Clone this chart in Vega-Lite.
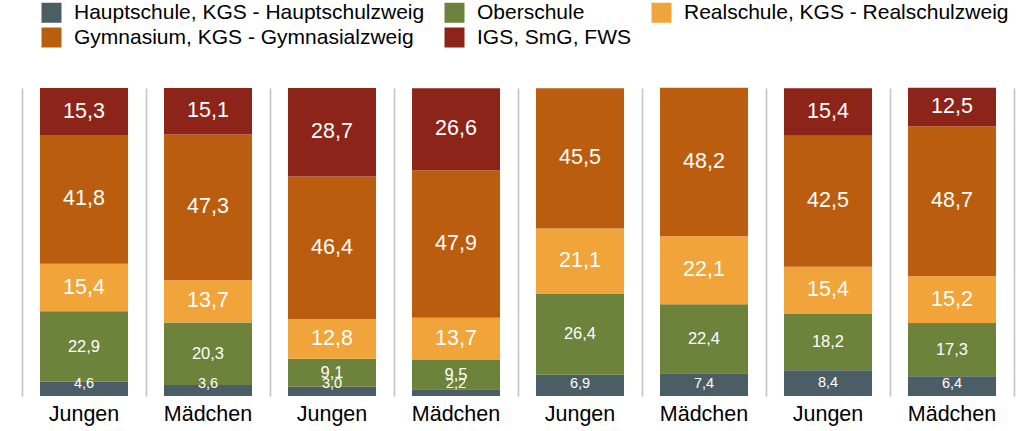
{
  "$schema": "https://vega.github.io/schema/vega-lite/v6.json",
  "width": 992,
  "height": 308,
  "autosize": {"type": "none"},
  "padding": {"left": 22, "top": 88, "right": 10, "bottom": 35},
  "background": "white",
  "config": {
    "view": {"stroke": null},
    "font": "Liberation Sans",
    "text": {"font": "Liberation Sans"}
  },
  "data": {
    "values": [
      {"key": "1-Jungen", "schulform": "Hauptschule, KGS - Hauptschulzweig", "wert": 4.6},
      {"key": "1-Jungen", "schulform": "Oberschule", "wert": 22.9},
      {"key": "1-Jungen", "schulform": "Realschule, KGS - Realschulzweig", "wert": 15.4},
      {"key": "1-Jungen", "schulform": "Gymnasium, KGS - Gymnasialzweig", "wert": 41.8},
      {"key": "1-Jungen", "schulform": "IGS, SmG, FWS", "wert": 15.3},
      {"key": "1-Mädchen", "schulform": "Hauptschule, KGS - Hauptschulzweig", "wert": 3.6},
      {"key": "1-Mädchen", "schulform": "Oberschule", "wert": 20.3},
      {"key": "1-Mädchen", "schulform": "Realschule, KGS - Realschulzweig", "wert": 13.7},
      {"key": "1-Mädchen", "schulform": "Gymnasium, KGS - Gymnasialzweig", "wert": 47.3},
      {"key": "1-Mädchen", "schulform": "IGS, SmG, FWS", "wert": 15.1},
      {"key": "2-Jungen", "schulform": "Hauptschule, KGS - Hauptschulzweig", "wert": 3.0},
      {"key": "2-Jungen", "schulform": "Oberschule", "wert": 9.1},
      {"key": "2-Jungen", "schulform": "Realschule, KGS - Realschulzweig", "wert": 12.8},
      {"key": "2-Jungen", "schulform": "Gymnasium, KGS - Gymnasialzweig", "wert": 46.4},
      {"key": "2-Jungen", "schulform": "IGS, SmG, FWS", "wert": 28.7},
      {"key": "2-Mädchen", "schulform": "Hauptschule, KGS - Hauptschulzweig", "wert": 2.2},
      {"key": "2-Mädchen", "schulform": "Oberschule", "wert": 9.5},
      {"key": "2-Mädchen", "schulform": "Realschule, KGS - Realschulzweig", "wert": 13.7},
      {"key": "2-Mädchen", "schulform": "Gymnasium, KGS - Gymnasialzweig", "wert": 47.9},
      {"key": "2-Mädchen", "schulform": "IGS, SmG, FWS", "wert": 26.6},
      {"key": "3-Jungen", "schulform": "Hauptschule, KGS - Hauptschulzweig", "wert": 6.9},
      {"key": "3-Jungen", "schulform": "Oberschule", "wert": 26.4},
      {"key": "3-Jungen", "schulform": "Realschule, KGS - Realschulzweig", "wert": 21.1},
      {"key": "3-Jungen", "schulform": "Gymnasium, KGS - Gymnasialzweig", "wert": 45.5},
      {"key": "3-Mädchen", "schulform": "Hauptschule, KGS - Hauptschulzweig", "wert": 7.4},
      {"key": "3-Mädchen", "schulform": "Oberschule", "wert": 22.4},
      {"key": "3-Mädchen", "schulform": "Realschule, KGS - Realschulzweig", "wert": 22.1},
      {"key": "3-Mädchen", "schulform": "Gymnasium, KGS - Gymnasialzweig", "wert": 48.2},
      {"key": "4-Jungen", "schulform": "Hauptschule, KGS - Hauptschulzweig", "wert": 8.4},
      {"key": "4-Jungen", "schulform": "Oberschule", "wert": 18.2},
      {"key": "4-Jungen", "schulform": "Realschule, KGS - Realschulzweig", "wert": 15.4},
      {"key": "4-Jungen", "schulform": "Gymnasium, KGS - Gymnasialzweig", "wert": 42.5},
      {"key": "4-Jungen", "schulform": "IGS, SmG, FWS", "wert": 15.4},
      {"key": "4-Mädchen", "schulform": "Hauptschule, KGS - Hauptschulzweig", "wert": 6.4},
      {"key": "4-Mädchen", "schulform": "Oberschule", "wert": 17.3},
      {"key": "4-Mädchen", "schulform": "Realschule, KGS - Realschulzweig", "wert": 15.2},
      {"key": "4-Mädchen", "schulform": "Gymnasium, KGS - Gymnasialzweig", "wert": 48.7},
      {"key": "4-Mädchen", "schulform": "IGS, SmG, FWS", "wert": 12.5}
    ]
  },
  "transform": [
    {"calculate": "indexof(['Hauptschule, KGS - Hauptschulzweig','Oberschule','Realschule, KGS - Realschulzweig','Gymnasium, KGS - Gymnasialzweig','IGS, SmG, FWS'], datum.schulform)", "as": "ord"},
    {"stack": "wert", "groupby": ["key"], "sort": [{"field": "ord", "order": "ascending"}], "as": ["y0", "y1"]},
    {"calculate": "max((datum.y0 + datum.y1) / 2, 3.8)", "as": "ymid"},
    {"calculate": "replace(format(datum.wert, '.1f'), '.', ',')", "as": "lbl"}
  ],
  "encoding": {
    "x": {
      "field": "key",
      "type": "nominal",
      "sort": null,
      "scale": {"paddingInner": 0, "paddingOuter": 0},
      "axis": {
        "title": null,
        "labelExpr": "slice(datum.label, 2)",
        "labelFontSize": 21.5,
        "labelColor": "#000000",
        "labelFont": "Liberation Sans",
        "labelAngle": 0,
        "labelPadding": 7,
        "ticks": false,
        "domain": false,
        "grid": true,
        "bandPosition": 0,
        "gridColor": "#c4c4c4",
        "gridWidth": 1.6
      }
    }
  },
  "layer": [
    {
      "mark": {"type": "bar", "width": {"band": 0.71}},
      "encoding": {
        "y": {"field": "y0", "type": "quantitative", "scale": {"domain": [0, 100], "nice": false}, "axis": {"orient": "right", "title": null, "labels": false, "ticks": false, "grid": false, "domain": true, "domainColor": "#c4c4c4", "domainWidth": 1.6}},
        "y2": {"field": "y1"},
        "color": {
          "field": "schulform",
          "type": "nominal",
          "scale": {
            "domain": ["Hauptschule, KGS - Hauptschulzweig", "Oberschule", "Realschule, KGS - Realschulzweig", "Gymnasium, KGS - Gymnasialzweig", "IGS, SmG, FWS"],
            "range": ["#4b5e66", "#6d823a", "#f0a43a", "#bb5d0e", "#8c2419"]
          },
          "legend": {
            "title": null,
            "orient": "none",
            "legendX": 19,
            "legendY": -86,
            "columns": 3,
            "direction": "horizontal",
            "symbolType": "square",
            "symbolSize": 400,
            "symbolStrokeWidth": 0,
            "symbolOpacity": 1,
            "labelFontSize": 21,
            "labelFont": "Liberation Sans",
            "labelColor": "#000000",
            "labelOffset": 12,
            "columnPadding": 19,
            "rowPadding": 3,
            "labelLimit": 600,
            "padding": 0
          }
        }
      }
    },
    {
      "mark": {"type": "text", "color": "white", "baseline": "middle", "align": "center", "font": "Liberation Sans"},
      "encoding": {
        "y": {"field": "ymid", "type": "quantitative"},
        "text": {"field": "lbl"},
        "size": {
          "condition": [
            {"test": "datum.schulform === 'Hauptschule, KGS - Hauptschulzweig'", "value": 14.5},
            {"test": "datum.schulform === 'Oberschule'", "value": 16.5}
          ],
          "value": 21.5
        }
      }
    }
  ]
}
